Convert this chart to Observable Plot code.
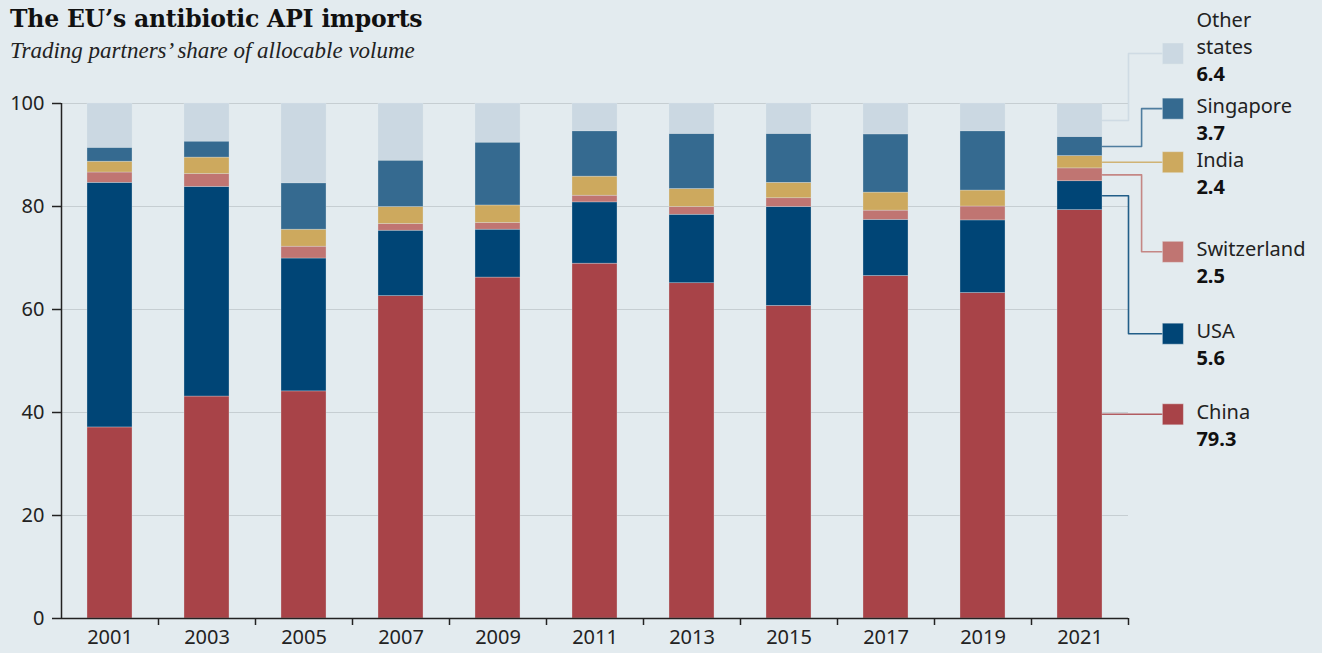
<!DOCTYPE html>
<html><head><meta charset="utf-8">
<script src="https://cdn.jsdelivr.net/npm/d3@7"></script>
<script src="https://cdn.jsdelivr.net/npm/@observablehq/plot@0.6"></script>
<style>
body{margin:0;background:#e3ebef;}
#wrap{position:relative;width:1322px;height:653px;overflow:hidden;}
#title{position:absolute;left:10px;top:5px;font:bold 23.5px "DejaVu Serif",serif;color:#111;white-space:nowrap;letter-spacing:-0.2px;}
#subtitle{position:absolute;left:10px;top:38px;font:italic 23px "Liberation Serif",serif;color:#222;white-space:nowrap;}
</style></head><body>
<div id="wrap"><div id="chart"></div>
<div id="title">The EU’s antibiotic API imports</div>
<div id="subtitle">Trading partners’ share of allocable volume</div></div>
<script>
const years = [2001, 2003, 2005, 2007, 2009, 2011, 2013, 2015, 2017, 2019, 2021];
const countries = ["China", "USA", "Switzerland", "India", "Singapore", "Other states"];
const china       = [37.1, 43.1, 44.1, 62.6, 66.2, 68.9, 65.1, 60.7, 66.5, 63.2, 79.3];
const usa         = [47.5, 40.7, 25.8, 12.7,  9.3, 11.9, 13.3, 19.2, 10.9, 14.1,  5.6];
const switzerland = [ 2.0,  2.5,  2.3,  1.3,  1.3,  1.3,  1.5,  1.7,  1.8,  2.7,  2.5];
const india       = [ 2.1,  3.2,  3.3,  3.3,  3.4,  3.7,  3.5,  3.0,  3.5,  3.1,  2.4];
const singapore   = [ 2.7,  3.1,  9.0,  9.0, 12.2,  8.8, 10.7,  9.5, 11.3, 11.5,  3.7];
const other       = [ 8.6,  7.4, 15.5, 11.1,  7.6,  5.4,  5.9,  5.9,  6.0,  5.4,  6.4];
const legendNames = ["China", "USA", "Switzerland", "India", "Singapore", "Other\nstates"];
const colors = ["#a84348", "#004576", "#c07572", "#cda95e", "#356a90", "#cbd8e2"];
const yTicks = [0, 20, 40, 60, 80, 100];

const series = [china, usa, switzerland, india, singapore, other];

// stacked records
const stacked = [];
years.forEach((yr, i) => {
  let base = 0;
  countries.forEach((c, k) => {
    const v = series[k][i];
    stacked.push({year: yr, country: c, value: v, y1: base, y2: base + v});
    base += v;
  });
});

// layout (in scale units)
const barHalf = 0.464;
const lastYear = years[years.length - 1];
const legendY = {"China": null, "USA": 55.3, "Switzerland": 71.2, "India": null, "Singapore": 99.0, "Other states": 109.7};
const elbowX = {"China": null, "USA": 2022, "Switzerland": 2022.27, "India": null, "Singapore": 2022.27, "Other states": 2022};
const squareX = 2022.915, squareLeft = 2022.70, labelX = 2023.40;

const legend = countries.map((c, k) => {
  const rec = stacked.find(d => d.year === lastYear && d.country === c);
  const mid = (rec.y1 + rec.y2) / 2;
  const ly = legendY[c] == null ? mid : legendY[c];
  return {country: c, name: legendNames[k], val: rec.value.toFixed(1), mid, ly};
});
const connectors = [];
legend.forEach(d => {
  const ex = elbowX[d.country];
  connectors.push({country: d.country, x: lastYear + barHalf, y: d.mid});
  if (ex != null) {
    connectors.push({country: d.country, x: ex, y: d.mid});
    connectors.push({country: d.country, x: ex, y: d.ly});
  }
  connectors.push({country: d.country, x: squareLeft, y: d.ly});
});

const chart = Plot.plot({
  width: 1322, height: 653,
  marginLeft: 61, marginRight: 194, marginTop: 103, marginBottom: 35,
  style: {fontFamily: "'Noto Sans', sans-serif", fontSize: "19px", color: "#222", background: "transparent", overflow: "visible"},
  x: {type: "linear", domain: [2000, 2022]},
  y: {domain: [0, 100]},
  color: {domain: countries, range: colors},
  marks: [
    Plot.ruleY(yTicks.filter(t => t > 0), {stroke: "#c6ced2", strokeWidth: 1.2}),
    Plot.rect(stacked, {x1: d => d.year - barHalf, x2: d => d.year + barHalf, y1: "y1", y2: "y2", fill: "country", stroke: "#e3ebef", strokeWidth: 0.6, strokeOpacity: 0.5}),
    Plot.line(connectors, {x: "x", y: "y", z: "country", stroke: "country", strokeWidth: 1.6, strokeOpacity: 0.85, curve: "linear"}),
    Plot.dot(legend, {x: squareX, y: "ly", symbol: "square", r: 11.9, fill: "country", stroke: "#e3ebef", strokeWidth: 0.8, strokeOpacity: 0.6}),
    Plot.text(legend.filter(d => d.country !== "Other states"), {x: labelX, y: "ly", text: "name", textAnchor: "start", lineAnchor: "middle", dy: -2, fontSize: 20, fill: "#222"}),
    Plot.text(legend.filter(d => d.country === "Other states"), {x: labelX, y: "ly", text: "name", textAnchor: "start", lineAnchor: "bottom", dy: 0, lineHeight: 1.35, fontSize: 20, fill: "#222"}),
    Plot.text(legend.filter(d => d.country !== "Other states"), {x: labelX, y: "ly", text: "val", textAnchor: "start", lineAnchor: "middle", dy: 25, fontSize: 20, fontWeight: "bold", fill: "#111"}),
    Plot.text(legend.filter(d => d.country === "Other states"), {x: labelX, y: "ly", text: "val", textAnchor: "start", lineAnchor: "middle", dy: 21, fontSize: 20, fontWeight: "bold", fill: "#111"}),
    Plot.axisY({ticks: yTicks, tickSize: 9, tickPadding: 8, fontSize: 20, stroke: "#222", strokeWidth: 1.5, strokeOpacity: 1, label: null}),
    Plot.ruleX([2000], {y1: 0, y2: 100, stroke: "#222", strokeWidth: 1.5}),
    Plot.ruleY([0], {stroke: "#222", strokeWidth: 1.5}),
    Plot.axisX({ticks: d3.range(2002, 2023, 2), tickFormat: () => "", tickSize: 7, stroke: "#222", strokeWidth: 1.5, strokeOpacity: 1, label: null}),
    Plot.axisX({ticks: years, tickFormat: d => String(d), tickSize: 0, tickPadding: 11, fontSize: 20, label: null})
  ]
});
document.getElementById("chart").appendChild(chart);
</script>
</body></html>
